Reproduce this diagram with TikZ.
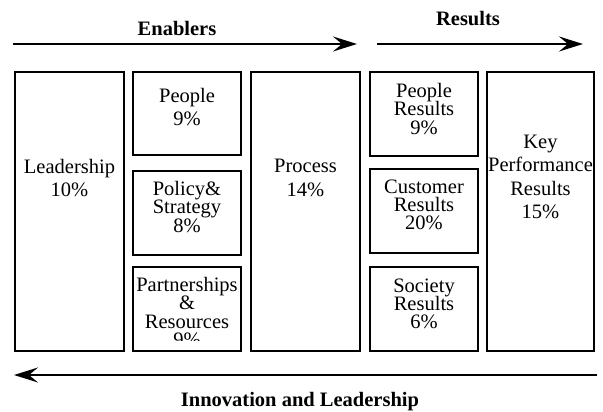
\documentclass[tikz,border=0pt]{standalone}
\usepackage{fontspec}
\setmainfont{Liberation Serif}
\usetikzlibrary{arrows.meta,positioning}
\newcommand\tightfont{\fontsize{20.5}{18.3}\selectfont\setlength{\lineskiplimit}{-20pt}}

\begin{document}
\begin{tikzpicture}[x=1pt,y=-1pt,
  box/.style={draw,line width=1.8pt,inner sep=0pt,outer sep=0pt},
  txt/.style={align=center,inner sep=0pt,font=\fontsize{20.5}{23.5}\selectfont},
  tight/.style={align=center,inner sep=0pt,font=\tightfont},
  flow/.style={line width=2.4pt,-{Stealth[length=24pt,width=15pt,inset=9pt]}},
  head/.style={inner sep=0pt,font=\bfseries\fontsize{20.5}{23}\selectfont}]
  \useasboundingbox (0,0) rectangle (603,412);

  % enablers
  \node[box,minimum width=109pt,minimum height=279pt] (lead) at (69.5,211.5) {};
  \node[box,minimum width=108pt,minimum height=83pt] (people) at (187,113.5) {};
  \node[box,minimum width=108pt,minimum height=84pt] (policy) at (187,213) {};
  \node[box,minimum width=108pt,minimum height=84pt] (partner) at (187,309) {};
  \node[box,minimum width=109pt,minimum height=279pt] (process) at (305.5,211.5) {};
  % results
  \node[box,minimum width=108pt,minimum height=84pt] (peopleres) at (424,114) {};
  \node[box,minimum width=108pt,minimum height=84pt] (custres) at (424,211) {};
  \node[box,minimum width=108pt,minimum height=84pt] (socres) at (424,309) {};
  \node[box,minimum width=107pt,minimum height=279pt] (keyres) at (540.5,211.5) {};

  \node[txt] (leadtxt) at (69.5,178) {Leadership\\10\%};
  \node[txt] (peopletxt) at (187,107) {People\\9\%};
  \node[tight] (policytxt) at (187,207) {Policy\&\\Strategy\\8\%};
  \begin{scope}
    \clip (134,268) rectangle (240,340);
    \node[tight] (partnertxt) at (187,312) {Partnerships\\\&\\Resources\\9\%};
  \end{scope}
  \node[txt] (processtxt) at (305.5,178) {Process\\14\%};
  \node[tight] (peoplerestxt) at (424,109) {People\\Results\\9\%};
  \node[tight] (custrestxt) at (424,205) {Customer\\Results\\20\%};
  \node[tight] (socrestxt) at (424,304) {Society\\Results\\6\%};
  \node[txt] (keyrestxt) at (540.5,177) {Key\\Performance\\Results\\15\%};

  % arrows
  \coordinate (enstart) at (13,44);
  \coordinate (enend) at (357,44);
  \coordinate (resstart) at (377,44);
  \coordinate (resend) at (583,44);
  \coordinate (innstart) at (597,375);
  \coordinate (innend) at (14,375);
  \draw[flow] (enstart) -- (enend);
  \draw[flow] (resstart) -- (resend);
  \draw[flow] (innstart) -- (innend);

  \node[head] (enablers) at (177,28) {Enablers};
  \node[head] (results) at (468,19) {Results};
  \node[head] (innov) at (300,402) {Innovation and Leadership};
\end{tikzpicture}
\end{document}
